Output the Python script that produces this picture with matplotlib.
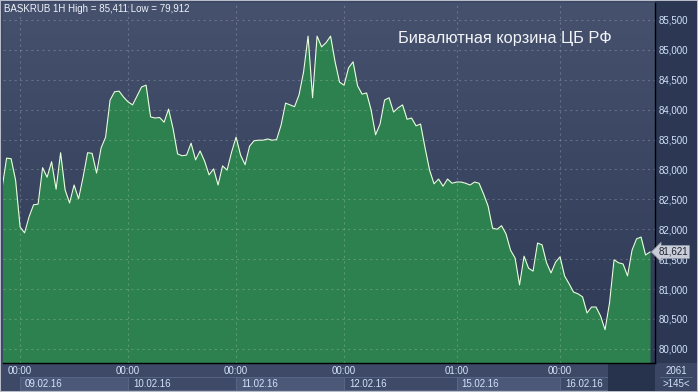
import numpy as np
import matplotlib.pyplot as plt
import matplotlib.transforms as mtransforms
from matplotlib.colors import LinearSegmentedColormap
from matplotlib.patches import Rectangle

plt.rcParams['font.family'] = ['Liberation Sans', 'DejaVu Sans']

# hourly closes, BASKRUB 1H (145 bars on screen)
prices = [
    82.69, 83.19, 83.18, 82.82, 82.04, 81.94, 82.21, 82.41, 82.42, 83.03,
    82.87, 83.13, 82.67, 83.28, 82.66, 82.44, 82.74, 82.51, 82.87, 83.28,
    83.27, 82.94, 83.36, 83.54, 84.16, 84.30, 84.31, 84.21, 84.13, 84.08,
    84.23, 84.38, 84.41, 83.88, 83.86, 83.87, 83.79, 84.01, 83.68, 83.26,
    83.23, 83.24, 83.44, 83.16, 83.31, 83.14, 82.91, 83.01, 82.74, 83.06,
    82.99, 83.29, 83.54, 83.24, 83.08, 83.39, 83.48, 83.49, 83.49, 83.51,
    83.49, 83.50, 83.74, 84.11, 84.08, 84.05, 84.25, 84.63, 85.23, 84.20,
    85.23, 85.05, 85.12, 85.23, 84.80, 84.46, 84.41, 84.70, 84.80, 84.40,
    84.26, 84.28, 84.00, 83.58, 83.76, 84.16, 84.20, 83.96, 84.03, 84.08,
    83.84, 83.86, 83.73, 83.76, 83.36, 82.99, 82.76, 82.84, 82.72, 82.84,
    82.77, 82.79, 82.79, 82.77, 82.74, 82.79, 82.77, 82.59, 82.39, 82.02,
    82.00, 82.06, 81.92, 81.65, 81.52, 81.07, 81.55, 81.35, 81.30, 81.77,
    81.74, 81.44, 81.27, 81.45, 81.54, 81.22, 81.09, 80.95, 80.92, 80.87,
    80.60, 80.70, 80.70, 80.55, 80.32, 80.77, 81.49, 81.44, 81.42, 81.22,
    81.65, 81.84, 81.87, 81.57, 81.62,
]
bars = np.arange(len(prices))

# day separators (bar index) and their labels
day_bars = [4, 28, 52, 76, 101, 124]
time_labels = ['00:00', '00:00', '00:00', '00:00', '01:00', '00:00']
date_labels = ['09.02.16', '10.02.16', '11.02.16', '12.02.16', '15.02.16', '16.02.16']
date_end = 134.7

y_ticks = np.arange(80.0, 85.51, 0.5)
last_price = 81.621
title = 'Бивалютная корзина ЦБ РФ'
header = 'BASKRUB 1H High = 85,411 Low = 79,912'

W, H = 698, 392
fig = plt.figure(figsize=(W / 100, H / 100), dpi=100, facecolor='#b7bcc8')


def px_rect(x0, y0, x1, y1, color):
    # rectangle in image pixels (origin top-left)
    fig.patches.append(Rectangle((x0 / W, 1 - y1 / H), (x1 - x0) / W, (y1 - y0) / H,
                                 transform=fig.transFigure, facecolor=color,
                                 edgecolor='none', zorder=0))


px_rect(1, 1, 697, 391, '#3d4966')      # bottom strip / base
px_rect(655, 1, 697, 363, '#2c3754')    # price scale panel
px_rect(655, 363, 697, 391, '#3a4663')  # counter box

ax = fig.add_axes([3 / W, (H - 363) / H, 652 / W, 360 / H])
ax.set_zorder(2)
ax.patch.set_visible(False)
ax.set_xlim(0.2, 145.1)
ax.set_ylim(79.764, 85.784)

# background gradient
cmap = LinearSegmentedColormap.from_list('bg', ['#2d3955', '#46526d'])
grad = np.linspace(0, 1, 256).reshape(-1, 1)
ax.imshow(grad, cmap=cmap, aspect='auto', extent=[0, 1, 0, 1], origin='lower',
          transform=ax.transAxes, zorder=0)

ax.fill_between(bars, prices, 79.0, color='#2d814e', lw=0, zorder=1)
ax.plot(bars, prices, color='#e8ffdc', lw=0.8, zorder=3)

# dashed grid
for y in y_ticks:
    ax.axhline(y, color='white', alpha=0.2, lw=0.8, ls=(0, (2, 3)), zorder=2)
for x in day_bars:
    ax.axvline(x, color='white', alpha=0.2, lw=0.8, ls=(0, (2, 3)), zorder=2)

for s in ['left', 'top']:
    ax.spines[s].set_visible(False)
for s in ['right', 'bottom']:
    ax.spines[s].set_color('black')
    ax.spines[s].set_linewidth(1.0)

ax.yaxis.tick_right()
ax.set_yticks(y_ticks)
ax.set_yticklabels([f'{v:.3f}'.replace('.', ',') for v in y_ticks])
ax.set_xticks(day_bars)
ax.set_xticklabels(time_labels)
ax.tick_params(axis='both', length=0, labelsize=7, labelcolor='#d3e3fa')
ax.tick_params(axis='y', pad=2.5)
ax.tick_params(axis='x', pad=2.0)

# date cells below the time labels
tr = mtransforms.blended_transform_factory(ax.transData, ax.transAxes)
edges = day_bars + [date_end]
for k, lab in enumerate(date_labels):
    x0, x1 = edges[k], edges[k + 1]
    fc = '#4b5878' if k % 2 == 0 else '#3e4a68'
    ax.add_patch(Rectangle((x0, -0.075), x1 - x0, 0.036, transform=tr,
                           facecolor=fc, edgecolor='#5b6a8a', lw=0.6,
                           clip_on=False, zorder=1))
    ax.text(x0 + 1.1, -0.057, lab, transform=tr, fontsize=7, color='#d3e3fa',
            va='center', ha='left', clip_on=False)
ax.add_patch(Rectangle((date_end, -0.078), 145.1 - date_end, 0.078, transform=tr,
                       facecolor='#27324d', edgecolor='none', clip_on=False, zorder=1))

# header and title
ax.text(1 / 652, 1 - 6 / 360, header, transform=ax.transAxes, fontsize=7,
        color='#eef2fa', va='center', ha='left')
ax.text(395 / 652, 1 - 35.5 / 360, title, transform=ax.transAxes, fontsize=11.8,
        color='#f2f4f8', va='center', ha='left')

# last price marker
trp = mtransforms.blended_transform_factory(ax.transAxes, ax.transData)
ax.text(1.005, last_price, f'{last_price:.3f}'.replace('.', ','), transform=trp,
        fontsize=7, color='#1c2233', va='center', ha='left', clip_on=False,
        bbox=dict(boxstyle='larrow,pad=0.15', facecolor='#c9cdd8', edgecolor='#9aa0b0', lw=0.5),
        zorder=5)

# bar counter box
fig.text(676 / W, 1 - 371 / H, '2061', fontsize=7, color='#d3e3fa', ha='center', va='center')
fig.text(676 / W, 1 - 384 / H, '>145<', fontsize=7, color='#d3e3fa', ha='center', va='center')
fig.add_artist(plt.Line2D([660 / W, 692 / W], [1 - 377 / H, 1 - 377 / H], color='#5b6a8a', lw=0.6))

fig.savefig('out.png', dpi=100, facecolor=fig.get_facecolor())
